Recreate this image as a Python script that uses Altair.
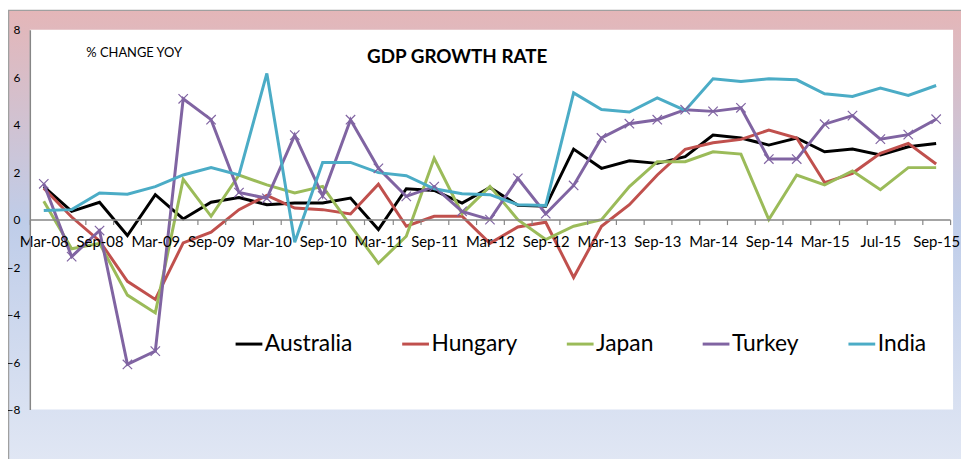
import altair as alt
import pandas as pd

# Quarterly periods (labels shown on every second category, as in the source)
categories = [
    "Mar-08", "Jun-08", "Sep-08", "Dec-08", "Mar-09", "Jun-09", "Sep-09", "Dec-09",
    "Mar-10", "Jun-10", "Sep-10", "Dec-10", "Mar-11", "Jun-11", "Sep-11", "Dec-11",
    "Mar-12", "Jun-12", "Sep-12", "Dec-12", "Mar-13", "Jun-13", "Sep-13", "Dec-13",
    "Mar-14", "Jun-14", "Sep-14", "Dec-14", "Mar-15", "Jun-15", "Jul-15", "Aug-15",
    "Sep-15",
]
labeled = categories[::2]

countries = ["Australia", "Hungary", "Japan", "Turkey", "India"]
colors = ["#000000", "#c0504d", "#9bbb59", "#8064a2", "#4bacc6"]

australia = [1.39, 0.35, 0.73, -0.67, 1.05, 0.03, 0.73, 0.93, 0.63, 0.70, 0.70,
             0.91, -0.42, 1.30, 1.23, 0.70, 1.35, 0.60, 0.56, 2.97, 2.16, 2.48,
             2.37, 2.65, 3.56, 3.44, 3.14, 3.44, 2.86, 2.97, 2.72, 3.07, 3.21]
hungary = [1.32, 0.11, -0.90, -2.60, -3.36, -0.98, -0.53, 0.42, 1.02, 0.49, 0.42,
           0.24, 1.49, -0.28, 0.14, 0.14, -1.00, -0.31, -0.11, -2.44, -0.28, 0.63,
           1.88, 2.96, 3.24, 3.38, 3.77, 3.44, 1.56, 1.95, 2.79, 3.21, 2.34]
japan = [0.77, -1.23, -1.00, -3.18, -3.93, 1.70, 0.14, 1.88, 1.46, 1.12, 1.40,
         -0.25, -1.84, -0.70, 2.58, 0.25, 1.40, 0.00, -0.84, -0.28, 0.00, 1.39,
         2.44, 2.44, 2.86, 2.76, 0.00, 1.88, 1.46, 2.05, 1.26, 2.19, 2.19]
turkey = [1.51, -1.56, -0.46, -6.10, -5.54, 5.09, 4.21, 1.14, 0.90, 3.56, 1.00,
          4.21, 2.16, 0.98, 1.39, 0.35, 0.00, 1.74, 0.25, 1.44, 3.44, 4.04,
          4.21, 4.63, 4.56, 4.71, 2.55, 2.55, 4.02, 4.38, 3.39, 3.58, 4.23]
india = [0.38, 0.42, 1.12, 1.07, 1.39, 1.88, 2.19, 1.88, 6.16, -0.95, 2.41,
         2.41, 1.98, 1.85, 1.30, 1.09, 1.05, 0.63, 0.60, 5.34, 4.64, 4.53,
         5.13, 4.60, 5.93, 5.82, 5.93, 5.89, 5.30, 5.19, 5.54, 5.23, 5.65]

series = [australia, hungary, japan, turkey, india]

rows = []
for name, vals in zip(countries, series):
    for c, v in zip(categories, vals):
        rows.append({"period": c, "country": name, "value": v})
df = pd.DataFrame(rows)

W, H = 928, 383
FONT = "Lato"

label_list = "[" + ",".join("'" + c + "'" for c in labeled) + "]"

x_scale = alt.Scale(type="band", domain=categories, paddingInner=0, paddingOuter=0)
y_scale = alt.Scale(domain=[-8, 8], nice=False, zero=False)

x_enc = alt.X(
    "period:O", sort=categories, scale=x_scale,
    axis=alt.Axis(
        title=None, orient="bottom", offset=-H / 2, labelAngle=0,
        labelExpr="indexof(" + label_list + ", datum.value) >= 0 ? datum.label : ''",
        labelOverlap=False, tickBand="extent", tickSize=5, tickColor="#868686",
        tickWidth=1.2, domainColor="#868686", domainWidth=1.5, labelFont=FONT,
        labelFontSize=15, labelColor="#000000", labelPadding=10, grid=False,
        zindex=1,
    ),
)
y_enc = alt.Y(
    "value:Q", scale=y_scale,
    axis=alt.Axis(
        title=None, values=list(range(-8, 9, 2)), ticks=False, labelPadding=10,
        grid=False, domainColor="#868686", domainWidth=1.5, labelFont=FONT,
        labelFontSize=12, labelColor="#000000", zindex=1,
    ),
)

one = pd.DataFrame({"a": [0]})

bg = alt.Chart(one).mark_rect(
    fill=alt.LinearGradient(
        gradient="linear",
        stops=[
            alt.GradientStop(color="#e4b6b8", offset=0),
            alt.GradientStop(color="#bfcde9", offset=0.47),
            alt.GradientStop(color="#e1e7f4", offset=1),
        ],
        x1=0, x2=0, y1=0, y2=1,
    ),
    stroke="#a0a0a0", strokeWidth=1.5,
).encode(x=alt.value(-21.5), x2=alt.value(W + 40), y=alt.value(-19.5), y2=alt.value(H + 56))

plot_bg = alt.Chart(one).mark_rect(fill="#ffffff").encode(
    x=alt.value(0), x2=alt.value(W + 3), y=alt.value(0), y2=alt.value(H)
)

lines = alt.Chart(df).mark_line(strokeWidth=3).encode(
    x=x_enc,
    y=y_enc,
    color=alt.Color(
        "country:N", sort=countries,
        scale=alt.Scale(domain=countries, range=colors),
        legend=alt.Legend(
            title=None, orient="none", legendX=206, legendY=302,
            direction="horizontal", columns=5, symbolType="stroke",
            symbolStrokeWidth=3, symbolSize=729, labelFont=FONT,
            labelFontSize=23, labelColor="#000000", columnPadding=43,
            labelOffset=1, labelLimit=0,
        ),
    ),
)

markers = alt.Chart(df[df["country"] == "Turkey"]).mark_point(
    shape="M-1,-1L1,1M-1,1L1,-1", filled=False, size=90, strokeWidth=1.2,
    color="#8064a2", opacity=1,
).encode(x=alt.X("period:O", sort=categories, scale=x_scale),
         y=alt.Y("value:Q", scale=y_scale))

title = alt.Chart(pd.DataFrame({"t": ["GDP GROWTH RATE"]})).mark_text(
    font=FONT, fontSize=19, fontWeight="bold", align="center", baseline="middle",
    color="#000000",
).encode(text="t:N", x=alt.value(431), y=alt.value(28))

subtitle = alt.Chart(pd.DataFrame({"t": ["% CHANGE YOY"]})).mark_text(
    font=FONT, fontSize=13, align="left", baseline="middle", color="#000000",
).encode(text="t:N", x=alt.value(57), y=alt.value(24))

chart = alt.layer(bg, plot_bg, lines, markers, title, subtitle).properties(
    width=W, height=H,
    padding={"left": 22, "top": 20, "right": 11, "bottom": 48},
    autosize=alt.AutoSizeParams(type="none"),
    background="#ffffff",
).configure_view(stroke=None)

chart.save("out.html", embed_options={"renderer": "svg", "actions": False})
